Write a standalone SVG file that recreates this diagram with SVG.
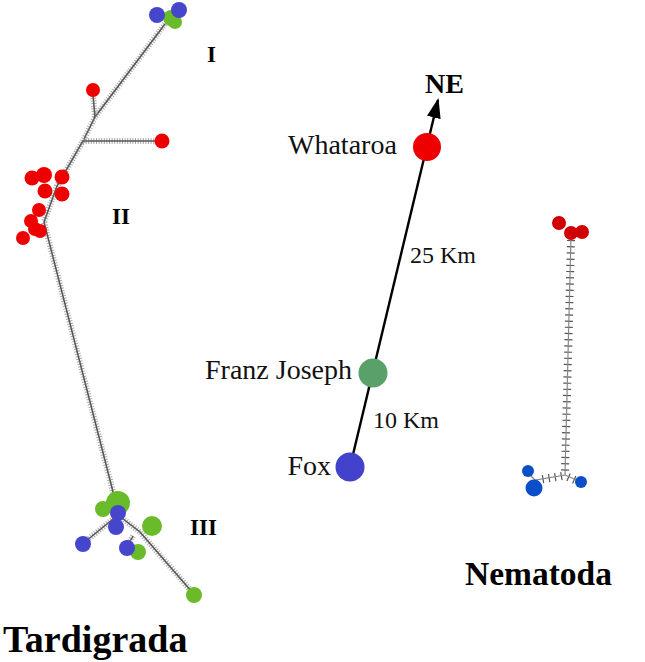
<svg xmlns="http://www.w3.org/2000/svg" width="645" height="662" viewBox="0 0 645 662">
<style>
.ht{fill:none;stroke:#a8a8a8;stroke-width:6;stroke-dasharray:1 1.6}
.hc{fill:none;stroke:#555;stroke-width:1.5}
.nt{fill:none;stroke:#555;stroke-width:8;stroke-dasharray:1.2 5}
.nc{fill:none;stroke:#888;stroke-width:1.2}
.r{fill:#ee0000}.b{fill:#4646cc}.g{fill:#6abb2a}
.nr{fill:#d00000}.nb{fill:#0b4fc8}
.lab{font-family:"Liberation Serif",serif;fill:#111}
.bold{font-family:"Liberation Serif",serif;font-weight:bold;fill:#000}
</style>
<defs>
<marker id="ah" markerWidth="20" markerHeight="14" refX="18" refY="7" orient="auto" markerUnits="userSpaceOnUse" viewBox="0 0 20 14">
<path d="M0,0 L20,7 L0,14 z" fill="#000"/>
</marker>
</defs>
<g id="connectors">
<g id="tardigrada-edges">
<path class="ht" d="M165,24 L95,117 L83,141 L57,186 L44,222 L110,480 L118,512"/>
<path class="hc" d="M165,24 L95,117 L83,141 L57,186 L44,222 L110,480 L118,512"/>
<path class="ht" d="M95,117 L93,95"/>
<path class="hc" d="M95,117 L93,95"/>
<path class="ht" d="M83,141 L156,141"/>
<path class="hc" d="M83,141 L156,141"/>
<path class="ht" d="M118,515 L86,541 M118,515 L140,532 L192,592 M133,536 L128,545"/>
<path class="hc" d="M118,515 L86,541 M118,515 L140,532 L192,592 M133,536 L128,545"/>
</g>
<g id="nematoda-edges">
<path class="nt" d="M571,240 L565,472 M562,476 L538,480 M568,477 L577,481"/>
<path class="nc" d="M571,236 L565,475 L535,480 L529,474 M565,475 L579,481 M565,232 L571,236"/>
</g>
<g id="map-edges">
<path d="M350,467 L438,100" stroke="#000" stroke-width="2.4" fill="none" marker-end="url(#ah)"/>
</g>
</g>
<g id="cluster-I">
<circle class="g" cx="171" cy="18" r="8"/>
<circle class="g" cx="175" cy="22" r="7"/>
<circle class="b" cx="157" cy="15" r="8"/>
<circle class="b" cx="179" cy="10" r="8"/>
</g>
<g id="red-branches">
<circle class="r" cx="93" cy="90" r="7"/>
<circle class="r" cx="162" cy="141" r="7.5"/>
</g>
<g id="cluster-II">
<circle class="r" cx="32" cy="178" r="7.5"/>
<circle class="r" cx="44" cy="175" r="8"/>
<circle class="r" cx="62" cy="177" r="7.5"/>
<circle class="r" cx="45" cy="191" r="7.5"/>
<circle class="r" cx="62" cy="194" r="7.5"/>
<circle class="r" cx="39" cy="210" r="7"/>
<circle class="r" cx="31" cy="221" r="7"/>
<circle class="r" cx="35" cy="229" r="7"/>
<circle class="r" cx="40" cy="231" r="7"/>
<circle class="r" cx="23" cy="238" r="7"/>
</g>
<g id="cluster-III">
<circle class="g" cx="118" cy="503" r="12"/>
<circle class="g" cx="103" cy="509" r="8"/>
<circle class="b" cx="118" cy="513" r="8"/>
<circle class="b" cx="116" cy="527" r="8"/>
<circle class="b" cx="83" cy="544" r="8"/>
<circle class="g" cx="152" cy="526" r="10"/>
<circle class="g" cx="138" cy="552" r="8"/>
<circle class="b" cx="127" cy="548" r="8"/>
<circle class="g" cx="194" cy="595" r="8"/>
</g>
<g id="labels-tardigrada">
<text class="bold" x="207" y="62" font-size="23">I</text>
<text class="bold" x="112" y="224" font-size="23">II</text>
<text class="bold" x="190" y="535" font-size="23">III</text>
<text class="bold" x="3" y="652" font-size="38">Tardigrada</text>
</g>
<g id="whataroa">
<circle class="r" cx="427" cy="147" r="14"/>
<text class="lab" x="288" y="154" font-size="28">Whataroa</text>
</g>
<g id="franz-joseph">
<circle cx="373" cy="373" r="14.5" fill="#5aa06a"/>
<text class="lab" x="352" y="379" font-size="28" text-anchor="end">Franz Joseph</text>
</g>
<g id="fox">
<circle cx="350" cy="467" r="14.5" fill="#4242cc"/>
<text class="lab" x="331" y="475" font-size="28" text-anchor="end">Fox</text>
</g>
<g id="map-labels">
<text class="bold" x="425" y="93" font-size="28">NE</text>
<text class="lab" x="410" y="263" font-size="24">25 Km</text>
<text class="lab" x="373" y="428" font-size="24">10 Km</text>
</g>
<g id="nematoda-red">
<circle class="nr" cx="559" cy="223" r="7"/>
<circle class="nr" cx="571" cy="233" r="7"/>
<circle class="nr" cx="582" cy="232" r="7"/>
</g>
<g id="nematoda-blue">
<circle class="nb" cx="528" cy="471" r="6"/>
<circle class="nb" cx="534" cy="488" r="8.5"/>
<circle class="nb" cx="581" cy="482" r="6"/>
</g>
<g id="label-nematoda">
<text class="bold" x="465" y="585" font-size="33.5">Nematoda</text>
</g>
</svg>
